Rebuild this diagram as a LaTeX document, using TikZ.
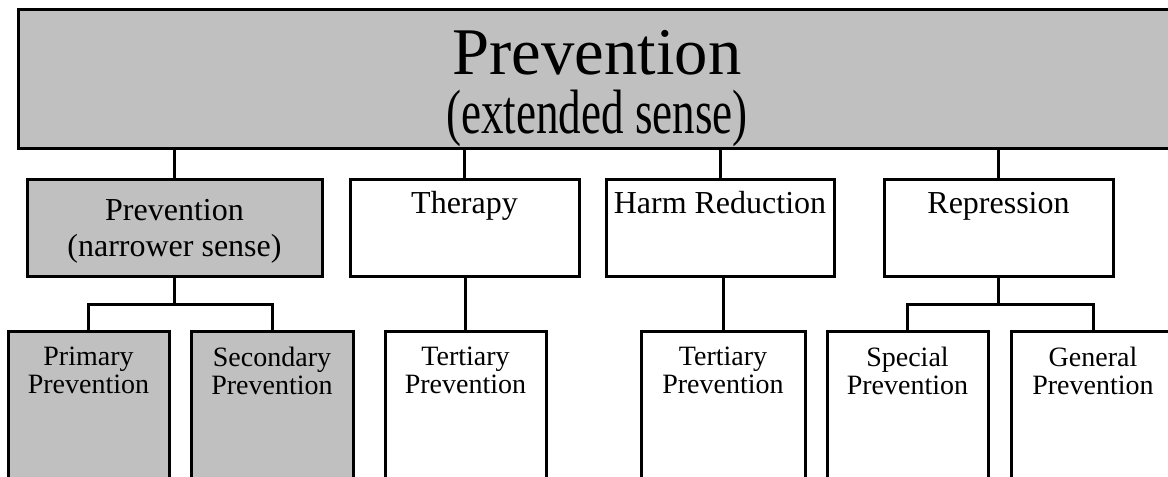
\documentclass[tikz,border=0pt]{standalone}
\usepackage{fontspec}
\setmainfont{Liberation Serif}

\definecolor{boxgray}{RGB}{192,192,192}

% box content: width, height, top pad, text
\newcommand{\boxtext}[4]{\parbox[c][#2][t]{#1}{\centering\vspace*{#3}#4\par}}

\tikzset{
  box/.style={draw, line width=2.25pt, inner sep=0pt, outer sep=0pt, anchor=north west},
  graybox/.style={box, fill=boxgray},
  link/.style={line width=2.25pt},
  midfont/.style={font=\fontsize{24}{27}\selectfont},
  smallfont/.style={font=\fontsize{21}{21}\selectfont}
}

\begin{document}
\begin{tikzpicture}[x=0.75pt, y=-0.75pt]

        \useasboundingbox (0,0) rectangle (1168,477);
        \clip (0,0) rectangle (1168,477);

        % top level
        \node[graybox] (ext) at (18,10) {\boxtext{868.5pt}{104.25pt}{15.35pt}{%
          \fontsize{50}{44.25}\selectfont Prevention\\
          \fontsize{47}{44.25}\selectfont\scalebox{0.72}[1]{(extended sense)}}};

        % second row
        \node[graybox, midfont] (narrow) at (27,180) {\boxtext{221.25pt}{72.75pt}{14.3pt}{Prevention\\(narrower sense)}};
        \node[box, midfont] (therapy) at (350,180) {\boxtext{171.75pt}{72.75pt}{8.7pt}{Therapy}};
        \node[box, midfont] (harm) at (606,180) {\boxtext{171pt}{72.75pt}{8.7pt}{Harm Reduction}};
        \node[box, midfont] (repr) at (884,180) {\boxtext{171.75pt}{72.75pt}{9.2pt}{Repression}};

        % third row
        \node[graybox, smallfont] (primary) at (8,332) {\boxtext{120.75pt}{126pt}{11pt}{Primary\\Prevention}};
        \node[graybox, smallfont] (secondary) at (191,332) {\boxtext{121.5pt}{126pt}{11pt}{Secondary\\Prevention}};
        \node[box, smallfont] (tert1) at (385,332) {\boxtext{120.75pt}{126pt}{11pt}{Tertiary\\Prevention}};
        \node[box, smallfont] (tert2) at (641,332) {\boxtext{123pt}{126pt}{11pt}{Tertiary\\Prevention}};
        \node[box, smallfont] (special) at (827,332) {\boxtext{120.75pt}{126pt}{11pt}{Special\\Prevention}};
        \node[box, smallfont] (general) at (1011,332) {\boxtext{123pt}{126pt}{11pt}{General\\Prevention}};

        % links from the top box
        \foreach \n in {narrow, therapy, harm, repr}
          \draw[link] (\n.north) -- (\n.north |- ext.south);

        % links to the third row
        \draw[link] (narrow.south) -- ++(0,28) coordinate (nfork);
        \draw[link] (primary.north) |- (nfork) -| (secondary.north);
        \draw[link] (tert1.north) -- (tert1.north |- therapy.south);
        \draw[link] (tert2.north) -- (tert2.north |- harm.south);
        \draw[link] (repr.south) -- ++(0,28) coordinate (rfork);
        \draw[link] (special.north) |- (rfork) -| (general.north);

      \end{tikzpicture}
\end{document}
